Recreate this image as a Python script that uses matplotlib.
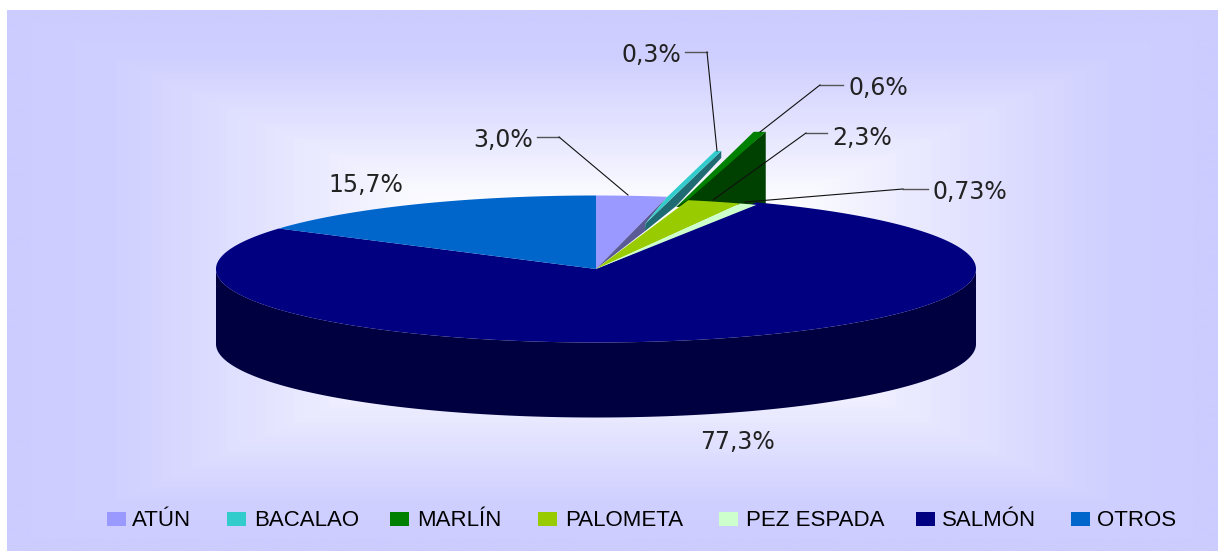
import matplotlib
matplotlib.use("Agg")
import matplotlib.pyplot as plt
import numpy as np
from matplotlib.patches import Rectangle

categories = ["ATÚN", "BACALAO", "MARLÍN", "PALOMETA", "PEZ ESPADA", "SALMÓN", "OTROS"]
values = [3.0, 0.3, 0.6, 2.3, 0.73, 77.3, 15.7]
value_labels = ["3,0%", "0,3%", "0,6%", "2,3%", "0,73%", "77,3%", "15,7%"]
colors = ["#9999FF", "#33CCCC", "#008000", "#99CC00", "#CCFFCC", "#000080", "#0066CC"]

W, H = 1223, 551
CX, CY, RX, RY, DEPTH = 596, 269, 380, 73.5, 75

# end of each slice, clockwise from 12 o'clock
cum = np.cumsum(values)
cum = cum * 100 / cum[-1]
start = np.concatenate([[0], cum[:-1]])


def rim(pct, r=1.0):
    a = np.radians(pct * 3.6)
    return CX + r * RX * np.sin(a), CY - r * RY * np.cos(a)


def slice_poly(p0, p1):
    pcts = np.linspace(p0, p1, max(3, int((p1 - p0) * 6)))
    xs, ys = rim(pcts)
    return np.r_[CX, xs], np.r_[CY, ys]


fig = plt.figure(figsize=(W / 100, H / 100), dpi=100)
ax = fig.add_axes([0, 0, 1, 1])
ax.set_xlim(0, W)
ax.set_ylim(H, 0)
ax.axis("off")

# panel: rectangular gradient, white in the middle, flat near the edges
L, T, R, B = 7, 10, 1218, 551
gx, gy = np.meshgrid(np.linspace(-1, 1, 605), np.linspace(-1, 1, 270))
d = np.maximum(np.abs(gx), np.abs(gy))
t = np.interp(d, [0.2, 0.33, 0.5, 0.6, 0.75, 0.85, 1.0], [0, 0.1, 0.42, 0.58, 0.82, 0.95, 1.0])
t = np.round(t * 40) / 40
img = np.dstack([1 - t * 0.2, 1 - t * 0.2, np.ones_like(t)])
ax.imshow(img, extent=[L, R, B, T], aspect="auto", interpolation="bilinear", zorder=0)

# side wall of the big slice
front = np.linspace(-90, 90, 240)
wx = CX + RX * np.sin(np.radians(front))
wy = CY + RY * np.cos(np.radians(front))
ax.fill(np.r_[wx, wx[::-1]], np.r_[wy, wy[::-1] + DEPTH], color="#000040", lw=0, zorder=1)

# the two thin slices overshoot upward along their edge
teal_end, green_end = cum[1], cum[2]
teal_tip = rim(teal_end, 1.6)
green_tip = rim(green_end, 1.84)
green_base = rim(green_end, 0.87)
green_foot = CY - RY * np.sqrt(1 - ((green_tip[0] - CX) / RX) ** 2) + 1
teal_y = teal_tip[1] - 3
green_y = green_tip[1] - 6

# top faces
for i in [0, 5, 6]:
    xs, ys = slice_poly(start[i], cum[i])
    ax.fill(xs, ys, color=colors[i], lw=0, zorder=3)

p_a, p_b = rim(cum[0]), rim(teal_end, 0.63)
p_c = rim(green_end, 0.53)
ax.fill([CX, p_a[0], p_b[0], p_c[0]], [CY, p_a[1], p_b[1], p_c[1]], color="#5A5A96", lw=0, zorder=4)
ax.fill([p_b[0], teal_tip[0], teal_tip[0], green_base[0], p_c[0]],
        [p_b[1], teal_y, teal_y + 7, green_base[1] - 1, p_c[1]],
        color="#1F6B73", lw=0, zorder=4)
ax.fill([p_a[0], teal_tip[0] - 6, teal_tip[0], p_b[0]],
        [p_a[1], teal_y, teal_y, p_b[1]], color=colors[1], lw=0, zorder=5)

# dark wall, drawn under the big slice
ax.fill([green_base[0], green_tip[0], green_tip[0]], [green_base[1], green_y, green_foot],
        color="#004000", lw=0, zorder=2.5)
g_r = rim(green_end)
ax.fill([green_base[0], green_tip[0] - 12, green_tip[0], g_r[0]],
        [green_base[1], green_y, green_y, g_r[1] + 2], color=colors[2], lw=0, zorder=5)

for i in [3, 4]:
    xs, ys = slice_poly(start[i], cum[i])
    ax.fill(xs, ys + np.r_[0, np.full(len(ys) - 1, 2.5)], color=colors[i], lw=0, zorder=6)

# leader lines
leaders = [
    ([537, 559, 628], [137, 137, 195]),
    ([685, 707, 717], [52, 52, 151]),
    ([843, 820, 760], [85, 85, 132]),
    ([827, 806, 713], [133, 133, 200]),
    ([928, 903, 745], [189, 189, 202]),
]
for lx, ly in leaders:
    ax.plot(lx[:2], ly[:2], color="#555555", lw=1.0, zorder=7)
    ax.plot(lx[1:], ly[1:], color="#111111", lw=0.8, zorder=7)

label_pos = [(503, 140), (651, 55), (878, 88), (862, 138), (970, 192), (738, 442), (366, 185)]
for txt, (x, y) in zip(value_labels, label_pos):
    ax.text(x, y, txt, fontsize=17, family="DejaVu Sans", color="#222222",
            ha="center", va="center", zorder=8)

# legend
swatch_x = [107, 227, 390, 538, 719, 916, 1071]
text_x = [132, 254, 417, 565, 746, 942, 1097]
for name, c, sx, tx in zip(categories, colors, swatch_x, text_x):
    ax.add_patch(Rectangle((sx, 512), 19, 14, facecolor=c, lw=0, zorder=8))
    ax.text(tx, 526, name, fontsize=16, family="Liberation Sans", color="#000000",
            ha="left", va="baseline", zorder=8)

fig.savefig("out.png", dpi=100, facecolor="white")
